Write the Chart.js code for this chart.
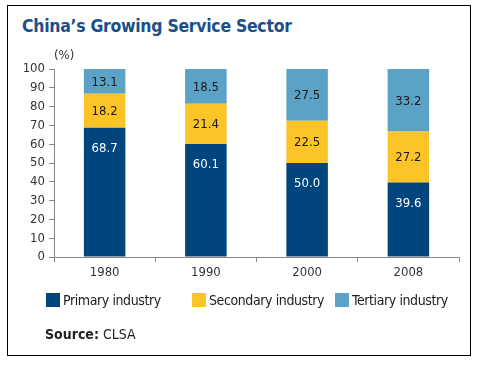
<!DOCTYPE html>
<html>
<head>
<meta charset="utf-8">
<script src="https://cdn.jsdelivr.net/npm/chart.js@4/dist/chart.umd.min.js"></script>
<style>
body { margin: 0; background: #fff; font-family: 'DejaVu Sans Condensed', 'Liberation Sans Narrow', Roboto, sans-serif; }
#wrap { position: relative; width: 481px; height: 368px; }
#frame { position: absolute; left: 7px; top: 5px; width: 462px; height: 349px; border: 1px solid #000; }
#title { position: absolute; left: 22px; top: 16px; font-size: 17.5px; font-weight: bold; color: #1b4f8a; white-space: nowrap; letter-spacing: -0.3px; }
#legend { position: absolute; left: 0; top: 292px; width: 481px; height: 20px; font-size: 14px; color: #222; white-space: nowrap; letter-spacing: -0.4px; }
#legend span.item { position: absolute; top: 0; }
#legend i { display: inline-block; width: 14px; height: 14px; vertical-align: -2px; margin-right: 3px; }
#source { position: absolute; left: 45px; top: 326px; font-size: 14px; color: #222; }
canvas { position: absolute; left: 0; top: 0; }
</style>
</head>
<body>
<div id="wrap">
  <div id="frame"></div>
  <div id="title">China’s Growing Service Sector</div>
  <canvas id="myChart" width="481" height="368"></canvas>
  <div id="legend"></div>
  <div id="source"><b>Source:</b> CLSA</div>
</div>
<script>
const years = ['1980', '1990', '2000', '2008'];
const primary = [68.7, 60.1, 50.0, 39.6];
const secondary = [18.2, 21.4, 22.5, 27.2];
const tertiary = [13.1, 18.5, 27.5, 33.2];
const seriesNames = ['Primary industry', 'Secondary industry', 'Tertiary industry'];
const colors = ['#00457e', '#fdc427', '#5ba2c7'];
const labelColors = ['#ffffff', '#1a1a1a', '#1a1a1a'];

const fontFamily = "'DejaVu Sans Condensed', 'Liberation Sans Narrow', Roboto, sans-serif";

// value labels inside the bar segments
const barLabels = {
  id: 'barLabels',
  afterDatasetsDraw(chart) {
    const ctx = chart.ctx;
    ctx.save();
    ctx.font = '13px ' + fontFamily;
    ctx.textAlign = 'center';
    ctx.textBaseline = 'middle';
    chart.data.datasets.forEach((ds, i) => {
      chart.getDatasetMeta(i).data.forEach((bar, j) => {
        const top = Math.min(bar.y, bar.base);
        const bottom = Math.max(bar.y, bar.base);
        let y = (top + bottom) / 2 + 1;
        if (i === 0) y = top + 21;
        ctx.fillStyle = labelColors[i];
        ctx.fillText(ds.data[j].toFixed(1), bar.x, y);
      });
    });
    // unit label
    ctx.fillStyle = '#333';
    ctx.font = '13px ' + fontFamily;
    ctx.textAlign = 'left';
    ctx.fillText('(%)', 54, 56);
    ctx.restore();
  }
};

const config = {
  type: 'bar',
  data: {
    labels: years,
    datasets: [
      { label: seriesNames[0], data: primary, backgroundColor: colors[0] },
      { label: seriesNames[1], data: secondary, backgroundColor: colors[1] },
      { label: seriesNames[2], data: tertiary, backgroundColor: colors[2] }
    ]
  },
  options: {
    responsive: false,
    animation: false,
    events: [],
    layout: { padding: { left: 0, right: 22, top: 69, bottom: 91 } },
    datasets: { bar: { categoryPercentage: 1, barPercentage: 0.41 } },
    plugins: { legend: { display: false }, title: { display: false }, tooltip: { enabled: false } },
    scales: {
      x: {
        stacked: true,
        afterFit: s => { s.height = 20; },
        grid: { offset: true, drawOnChartArea: false, tickLength: 5, color: '#888' },
        border: { color: '#888' },
        ticks: { color: '#333', font: { family: fontFamily, size: 13 }, padding: 3 }
      },
      y: {
        stacked: true,
        min: 0,
        max: 100,
        afterFit: s => { s.width = 54; },
        grid: { drawOnChartArea: false, tickLength: 5, color: '#888' },
        border: { color: '#888' },
        ticks: { stepSize: 10, autoSkip: false, color: '#333', font: { family: fontFamily, size: 13 }, padding: 4 }
      }
    }
  },
  plugins: [barLabels]
};

const myChart = new Chart(document.getElementById('myChart'), config);

const legendLeft = [46, 192, 335];
const legend = document.getElementById('legend');
seriesNames.forEach((name, i) => {
  const item = document.createElement('span');
  item.className = 'item';
  item.style.left = legendLeft[i] + 'px';
  item.innerHTML = '<i style="background:' + colors[i] + '"></i>' + name;
  legend.appendChild(item);
});
</script>
</body>
</html>
